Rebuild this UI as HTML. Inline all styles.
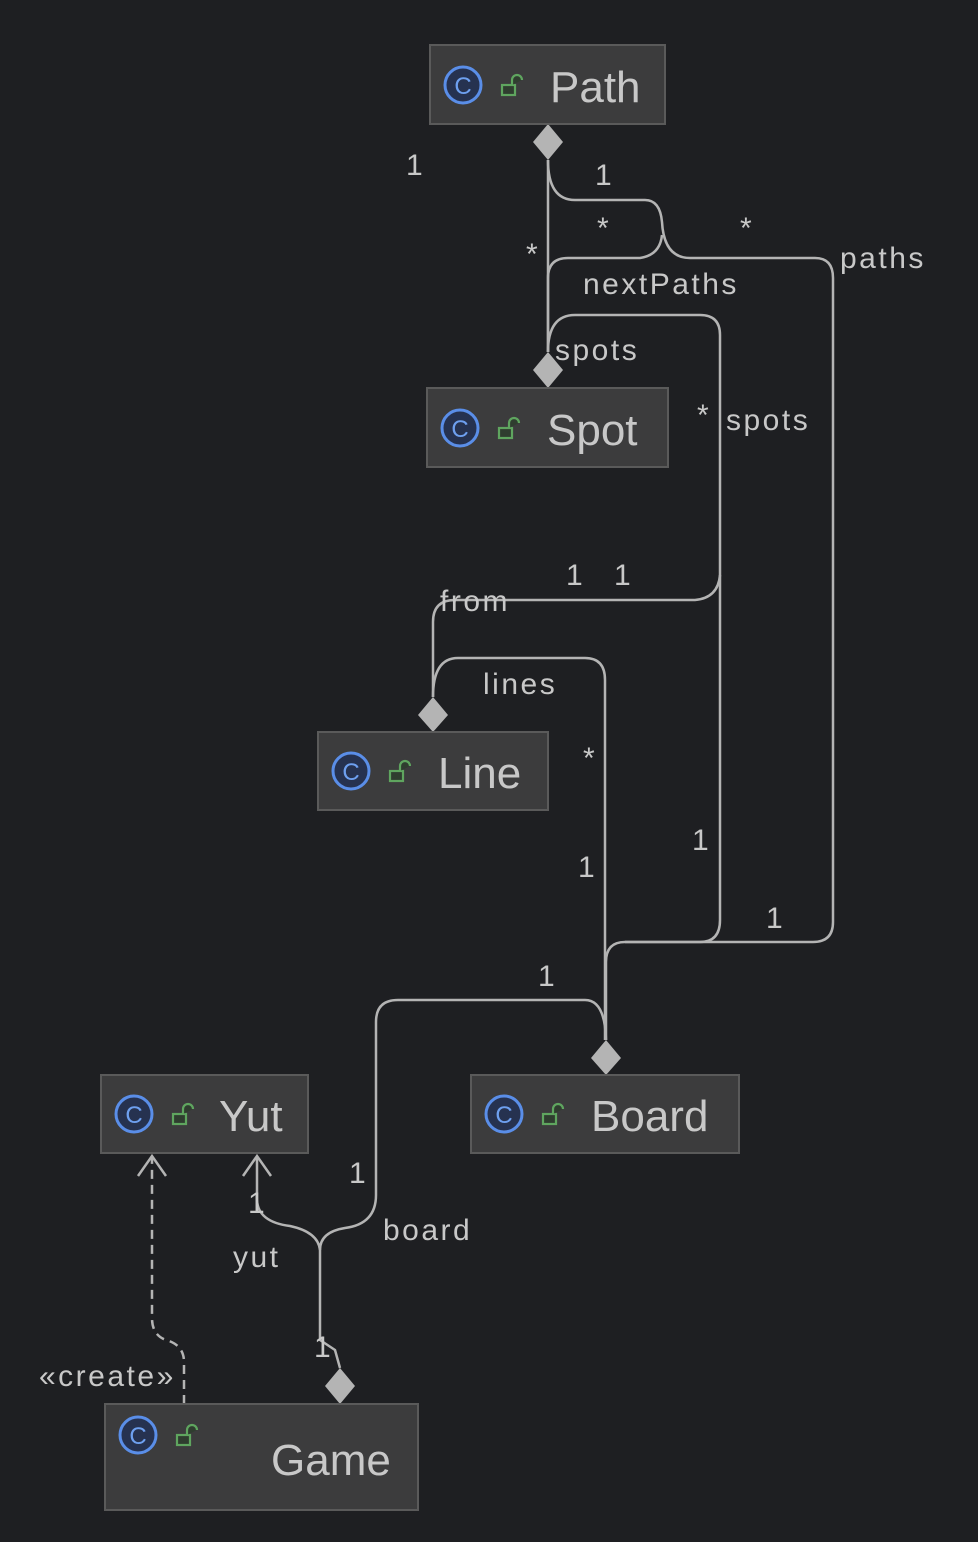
<!DOCTYPE html>
<html><head><meta charset="utf-8"><style>
html,body{margin:0;padding:0;background:#1e1f22;}
svg{display:block}
text{font-family:"Liberation Sans","DejaVu Sans",sans-serif;fill:#c8c8c8}
.lb text{letter-spacing:2.5px}
</style></head><body>
<svg width="978" height="1542" viewBox="0 0 978 1542" xmlns="http://www.w3.org/2000/svg">
<rect width="978" height="1542" fill="#1e1f22"/>
<g fill="none" stroke="#b4b4b4" stroke-width="2.5">
<path d="M548 160 L548 352"/>
<path d="M548 160 Q548 200 575 200 L645 200 Q660 200 662 222 Q664 258 690 258 L815 258 Q833 258 833 278 L833 922 Q833 942 813 942 L625 942 Q606 942 606 962 L606 1040"/>
<path d="M548 352 L548 278 Q548 258 568 258 L640 258 Q660 255 662 235"/>
<path d="M548 352 Q548 315 575 315 L700 315 Q720 315 720 335 L720 920 Q720 942 700 942 L625 942"/>
<path d="M433 697 L433 622 Q433 600 455 600 L695 600 Q718 598 720 575"/>
<path d="M433 697 Q433 658 458 658 L585 658 Q605 658 605 680 L605 1040"/>
<path d="M340 1368 L335 1350 L320 1340 L320 1250 Q320 1232 345 1228 Q376 1224 376 1195 L376 1022 Q376 1000 398 1000 L585 1000 Q605 1000 606 1040"/>
<path d="M320 1250 Q318 1232 290 1226 Q258 1222 257 1200 L257 1156"/>
<path d="M243 1176 L257 1156 L271 1176"/>
<path d="M184 1404 L184 1362 Q184 1345 166 1340 Q152 1335 152 1318 L152 1156" stroke-dasharray="9 6"/>
<path d="M138 1176 L152 1156 L166 1176"/>
</g>
<g fill="#b4b4b4">
<path d="M548 124 L563 142 L548 160 L533 142Z"/>
<path d="M548 352 L563 370 L548 388 L533 370Z"/>
<path d="M433 697 L448 715 L433 732 L418 715Z"/>
<path d="M606 1040 L621 1058 L606 1075 L591 1058Z"/>
<path d="M340 1368 L355 1386 L340 1404 L325 1386Z"/>
</g>
<g stroke="#5a5a5a" stroke-width="2" fill="#3c3c3d">
<rect x="430" y="45" width="235" height="79"/>
<rect x="427" y="388" width="241" height="79"/>
<rect x="318" y="732" width="230" height="78"/>
<rect x="101" y="1075" width="207" height="78"/>
<rect x="471" y="1075" width="268" height="78"/>
<rect x="105" y="1404" width="313" height="106"/>
</g>
<g>
<g fill="#263250" stroke="#5a8ee8" stroke-width="3">
<circle cx="463" cy="85" r="18"/><circle cx="460" cy="428" r="18"/><circle cx="351" cy="771" r="18"/><circle cx="134" cy="1114" r="18"/><circle cx="504" cy="1114" r="18"/><circle cx="138" cy="1435" r="18"/>
</g>
<g font-size="24" text-anchor="middle"><text x="463" y="94" style="fill:#6ea0f0">C</text><text x="460" y="437" style="fill:#6ea0f0">C</text><text x="351" y="780" style="fill:#6ea0f0">C</text><text x="134" y="1123" style="fill:#6ea0f0">C</text><text x="504" y="1123" style="fill:#6ea0f0">C</text><text x="138" y="1444" style="fill:#6ea0f0">C</text></g>
<g fill="#2f3d2f" stroke="#5fa55f" stroke-width="2.2">
<rect x="502" y="85" width="13" height="10"/><path d="M512 85 V80 A5 5 0 0 1 522 80"/>
<rect x="499" y="428" width="13" height="10"/><path d="M509 428 V423 A5 5 0 0 1 519 423"/>
<rect x="390" y="771" width="13" height="10"/><path d="M400 771 V766 A5 5 0 0 1 410 766"/>
<rect x="173" y="1114" width="13" height="10"/><path d="M183 1114 V1109 A5 5 0 0 1 193 1109"/>
<rect x="543" y="1114" width="13" height="10"/><path d="M553 1114 V1109 A5 5 0 0 1 563 1109"/>
<rect x="177" y="1435" width="13" height="10"/><path d="M187 1435 V1430 A5 5 0 0 1 197 1430"/>
</g>
</g>
<g font-size="44">
<text x="550" y="102">Path</text>
<text x="547" y="445">Spot</text>
<text x="438" y="788">Line</text>
<text x="219" y="1131">Yut</text>
<text x="591" y="1131">Board</text>
<text x="271" y="1475">Game</text>
</g>
<g font-size="30" class="lb">
<text x="406" y="175">1</text>
<text x="595" y="185">1</text>
<text x="597" y="238">*</text>
<text x="740" y="238">*</text>
<text x="526" y="264">*</text>
<text x="840" y="268">paths</text>
<text x="583" y="294">nextPaths</text>
<text x="555" y="360">spots</text>
<text x="697" y="425">*</text>
<text x="726" y="430">spots</text>
<text x="566" y="585">1</text>
<text x="614" y="585">1</text>
<text x="440" y="611">from</text>
<text x="483" y="694">lines</text>
<text x="583" y="768">*</text>
<text x="692" y="850">1</text>
<text x="578" y="877">1</text>
<text x="766" y="928">1</text>
<text x="538" y="986">1</text>
<text x="349" y="1183">1</text>
<text x="248" y="1213">1</text>
<text x="383" y="1240">board</text>
<text x="233" y="1267">yut</text>
<text x="39" y="1386">«create»</text>
<text x="314" y="1357">1</text>
</g>
</svg>
</body></html>
